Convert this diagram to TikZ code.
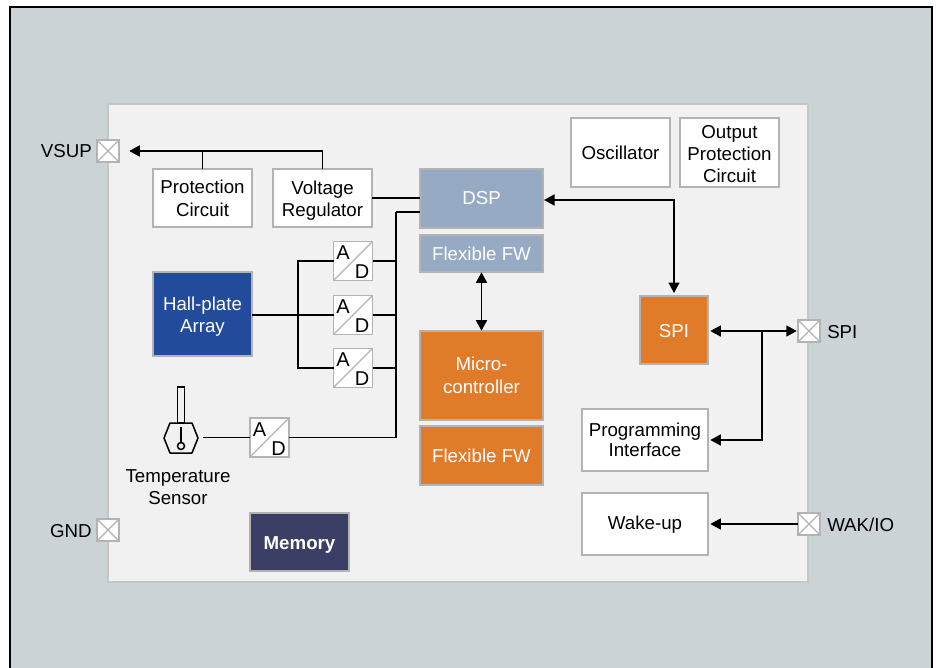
\documentclass[tikz,border=0pt]{standalone}
\usepackage{fontspec}
\setmainfont{Liberation Sans}
\usetikzlibrary{arrows.meta}
\definecolor{bgc}{HTML}{CBD3D6}
\definecolor{panelc}{HTML}{F1F1F1}
\definecolor{edgec}{HTML}{B3B3B3}
\definecolor{dspc}{HTML}{96AAC4}
\definecolor{orangec}{HTML}{E07B2A}
\definecolor{hallc}{HTML}{224B9C}
\definecolor{memc}{HTML}{3B3F66}
\tikzset{
  x=1pt,y=-1pt,
  every node/.style={font=\fontsize{18.7}{22.4}\selectfont,inner sep=0pt,outer sep=0pt,align=center},
  blk/.style={draw=edgec,line width=2pt,fill=white},
  pad/.style={draw=edgec,line width=1.8pt,fill=white,minimum width=22.5pt,minimum height=22.5pt},
  adbox/.style={draw=edgec,line width=1.8pt,fill=white,minimum width=39pt,minimum height=39pt},
  wire/.style={draw=black,line width=1.6pt},
  arr/.style={wire,-{Triangle[length=10.5pt,width=11pt]}},
  biarr/.style={wire,{Triangle[length=10.5pt,width=11pt]}-{Triangle[length=10.5pt,width=11pt]}},
  lbl/.style={text=black},
  lbw/.style={text=white},
  adtext/.style={text=black,font=\fontsize{20}{24}\selectfont},
}
% [downward text offset], x0, y0, x1, y1, box style, text style, text
\newcommand{\blockbox}[8][0]{%
  \pgfmathsetmacro{\bw}{#4-#2-1.4}\pgfmathsetmacro{\bh}{#5-#3-1.4}%
  \pgfmathsetmacro{\bx}{(#2+#4)/2}\pgfmathsetmacro{\by}{(#3+#5)/2}%
  \node[blk,#6,minimum width=\bw pt,minimum height=\bh pt] at (\bx,\by) {};
  \node[#7] at (\bx,\by+#1) {#8};}
\newcommand{\padbox}[3]{%
  \node[pad] (#1) at (#2,#3) {};
  \draw[edgec,line width=1.2pt] (#1.north west) -- (#1.south east) (#1.north east) -- (#1.south west);}
\newcommand{\adc}[3]{%
  \node[adbox] (#1) at (#2,#3) {};
  \draw[edgec,line width=1.4pt] (#1.south west) -- (#1.north east);
  \node[adtext] (#1a) at ([xshift=-10pt,yshift=8pt]#1.center) {A};
  \node[adtext] (#1d) at ([xshift=9pt,yshift=-11pt]#1.center) {D};}
\begin{document}
\begin{tikzpicture}
\useasboundingbox (0,0) rectangle (936,668);
% background
\fill[bgc] (10,7) rectangle (932,668);
\draw[black,line width=2.2pt] (10,668) -- (10,7) -- (932,7) -- (932,668);
\fill[panelc,draw=edgec!70!panelc,line width=1.4pt] (108,104) rectangle (808,582);

% blocks
\blockbox[.5]{152}{168}{253}{228}{name=prot}{lbl}{Protection\\Circuit}
\blockbox[2.5]{272}{168}{373}{228}{name=vreg}{lbl}{Voltage\\Regulator}
\blockbox[2.5]{152}{271}{253}{357}{name=hall,fill=hallc}{lbw}{Hall-plate\\Array}
\blockbox[3]{249}{512}{350}{572}{name=mem,fill=memc}{lbw}{\textbf{Memory}}
\blockbox{419}{168}{544}{229}{name=dsp,fill=dspc}{lbw}{DSP}
\blockbox{419}{234}{544}{273}{name=fwa,fill=dspc}{lbw}{Flexible FW}
\blockbox{419}{330}{544}{421}{name=mcu,fill=orangec}{lbw}{Micro-\\controller}
\blockbox{419}{425}{544}{486}{name=fwb,fill=orangec}{lbw}{Flexible FW}
\blockbox{570}{117}{671}{188}{name=osc}{lbl}{Oscillator}
\blockbox[1.5]{679}{117}{780}{188}{name=opc}{lbl}{Output\\Protection\\Circuit}
\blockbox[1]{639}{295}{709}{365}{name=spi,fill=orangec}{lbw}{SPI}
\blockbox{581}{408}{709}{472}{name=prog}{lbl,font=\fontsize{18.7}{20}\selectfont}{Programming\\Interface}
\blockbox[1]{581}{492}{709}{556}{name=wake}{lbl}{Wake-up}

% pads
\padbox{vsup}{108}{151}
\padbox{gnd}{108}{530}
\padbox{pspi}{809}{331}
\padbox{pwak}{809}{524}
\node[lbl,anchor=east] (lvsup) at ([xshift=-5pt]vsup.west) {VSUP};
\node[lbl,anchor=east] (lgnd) at ([xshift=-5pt,yshift=-1pt]gnd.west) {GND};
\node[lbl,anchor=west] (lspi) at ([xshift=7pt,yshift=-1.5pt]pspi.east) {SPI};
\node[lbl,anchor=west] (lwak) at ([xshift=7pt,yshift=-1pt]pwak.east) {WAK/IO};

% ADCs
\adc{ada}{353}{261}
\adc{adb}{353}{315}
\adc{adc}{353}{368}
\adc{add}{269.5}{437.5}

% temperature sensor
\node[draw=black,line width=1.5pt,minimum width=7pt,minimum height=36pt] (stem) at (181,405) {};
\draw[black,line width=1.5pt,line join=round] (164,438) -- (170,423) -- (192,423) -- (198,438) -- (192,453) -- (170,453) -- cycle;
\node[draw=black,line width=1.5pt,circle,minimum size=7pt] (bulb) at (181,446) {};
\coordinate (bulbtop) at (181,427);
\draw[black,line width=1.5pt] (bulbtop) -- (bulb.north);
\coordinate (sensr) at (203,437.5);
\node[lbl] (tlabel) at (178,487) {Temperature\\Sensor};

% junction helpers
\coordinate (busa) at (298,315);
\coordinate (busb) at (396,315);
\coordinate (busd) at (396,212);
\coordinate (dspr) at (544,200);
\coordinate (spit) at (674,293);
\coordinate (br) at (762,331);

% connectors
\draw[arr,shorten >=10pt] (vreg.north) |- (vsup.east);
\draw[wire] (prot.north) -- (prot.north |- vsup.east);
\draw[wire] (vreg.east) -- (vreg.east -| dsp.west);
\draw[wire] (busd) -- (busd -| dsp.west);
\draw[wire] (add.east) -| (busd);
\draw[wire] (sensr) -- (add.west);
\draw[wire] (adb.west -| hall.east) -- (adb.west);
\draw[wire] (ada.west) -| (busa) |- (adc.west);
\draw[wire] (ada.east) -- (ada.east -| busb);
\draw[wire] (adb.east) -- (adb.east -| busb);
\draw[wire] (adc.east) -- (adc.east -| busb);
\draw[biarr] (dspr) -| (spit);
\draw[biarr] (fwa.south) -- (mcu.north);
\draw[biarr,shorten <=2pt,shorten >=1pt] (pspi.west -| spi.east) -- (pspi.west);
\draw[arr,shorten >=2pt] (br) |- (prog.east);
\draw[arr,shorten >=2pt] (pwak.west) -- (pwak.west -| wake.east);
\end{tikzpicture}
\end{document}
